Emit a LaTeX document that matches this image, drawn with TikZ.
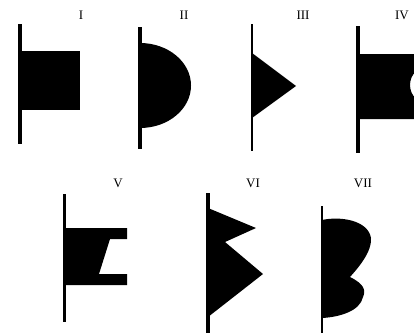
\documentclass[tikz,border=0pt]{standalone}
\usepackage{fontspec}
\setmainfont{Liberation Serif}
\begin{document}
\begin{tikzpicture}[x=1pt,y=-1pt,line width=3pt]
\tikzset{numeral/.style={font=\fontsize{13}{15}\selectfont,inner sep=0pt}}
\useasboundingbox (0,0) rectangle (414,335);
% I
\fill (20,51) rectangle (80,110);
\draw[line width=3.5] (20,24) -- (20,144);
\node[numeral] (numI) at (81,15) {I};
% II
\fill (140,43) arc[start angle=-90,end angle=90,x radius=51,y radius=42.5] -- cycle;
\draw[line width=3.5] (140,27) -- (140,149);
\node[numeral] (numII) at (184,15) {II};
% III
\fill (252,53) -- (296,86) -- (252,118) -- cycle;
\draw[line width=2.5] (252,24) -- (252,151);
\node[numeral] (numIII) at (303,15) {III};
% IV
\begin{scope}
\clip (0,0) rectangle (414,335);
\fill[even odd rule] (358,54) rectangle (420,119) (429,85) circle[radius=19];
\end{scope}
\draw[line width=3.5] (358,26) -- (358,153);
\node[numeral] (numIV) at (402,15) {IV};
% V
\fill (64,228) -- (127,228) -- (127,239) -- (110,239) -- (99,274) -- (127,274)
      -- (127,285) -- (64,285) -- cycle;
\draw (64,194) -- (64,322);
\node[numeral] (numV) at (118,183) {V};
% VI
\fill (208,208) -- (256,228) -- (225,242) -- (263,274) -- (208,317) -- cycle;
\draw[line width=3.5] (208,193) -- (208,333);
\node[numeral] (numVI) at (253,183) {VI};
% VII
\fill (322,220) .. controls (340,216) and (368,220) .. (371,238)
      .. controls (372,252) and (358,268) .. (350,277)
      .. controls (364,284) and (366,290) .. (363,297)
      .. controls (360,311) and (340,317) .. (322,318) -- cycle;
\draw[line width=2.5] (322,206) -- (322,333);
\node[numeral] (numVII) at (363,183) {VII};
\end{tikzpicture}
\end{document}
